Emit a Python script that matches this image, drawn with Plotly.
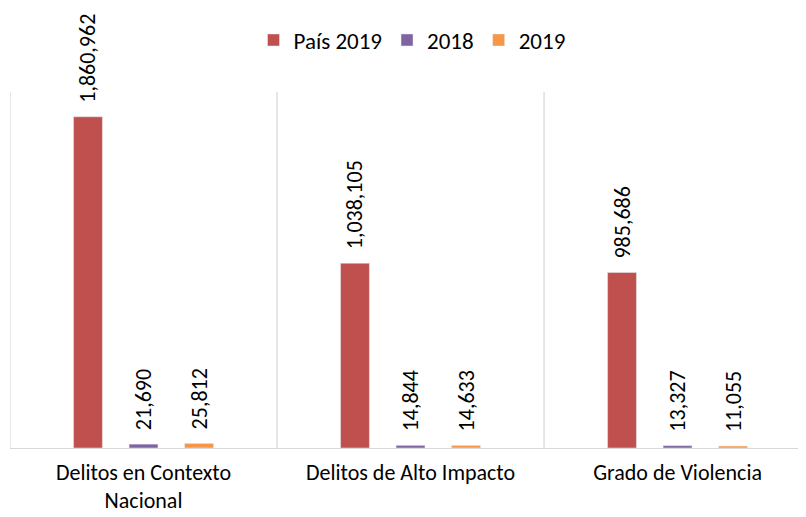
import plotly.graph_objects as go

categories = ["Delitos en Contexto<br>Nacional", "Delitos de Alto Impacto", "Grado de Violencia"]
series_names = ["País 2019", "2018", "2019"]
pais_2019 = [1860962, 1038105, 985686]
v_2018 = [21690, 14844, 13327]
v_2019 = [25812, 14633, 11055]
colors = ["#C0504D", "#8064A2", "#F79646"]

FONT = "Calibri, Carlito, Lato, sans-serif"

fig = go.Figure()
for name, vals, col in zip(series_names, [pais_2019, v_2018, v_2019], colors):
    fig.add_trace(go.Bar(
        name=name, x=categories, y=vals, marker_color=col,
        text=["\u2002" + f"{v:,}" for v in vals], textposition="outside", textangle=-90,
        constraintext="none",
        textfont=dict(size=22, color="#000000", family=FONT),
        cliponaxis=False,
    ))

# separator lines at category boundaries
for xb in [-0.5, 0.5, 1.5, 2.5]:
    fig.add_shape(type="line", xref="x", yref="y", x0=xb, x1=xb, y0=0, y1=2000000,
                  line=dict(color="#D9D9D9", width=1.3), layer="below")

fig.update_layout(
    width=806, height=517,
    margin=dict(l=2, r=0, t=84, b=77, autoexpand=False),
    paper_bgcolor="white", plot_bgcolor="white",
    barmode="group", bargap=0.376, bargroupgap=0.48,
    font=dict(family=FONT, size=22, color="#000000"),
    legend=dict(orientation="h", x=0.5, xanchor="center", y=1.146, yanchor="middle",
                font=dict(size=23, family=FONT), traceorder="normal", itemwidth=30),
    xaxis=dict(range=[-0.5, 2.511], showgrid=False, showline=True, linecolor="#D9D9D9",
               linewidth=1.3, ticks="", tickfont=dict(size=22, family=FONT),
               ticklabelstandoff=4),
    yaxis=dict(range=[0, 2000000], visible=False, showgrid=False),
)

fig.write_html("out.html")
